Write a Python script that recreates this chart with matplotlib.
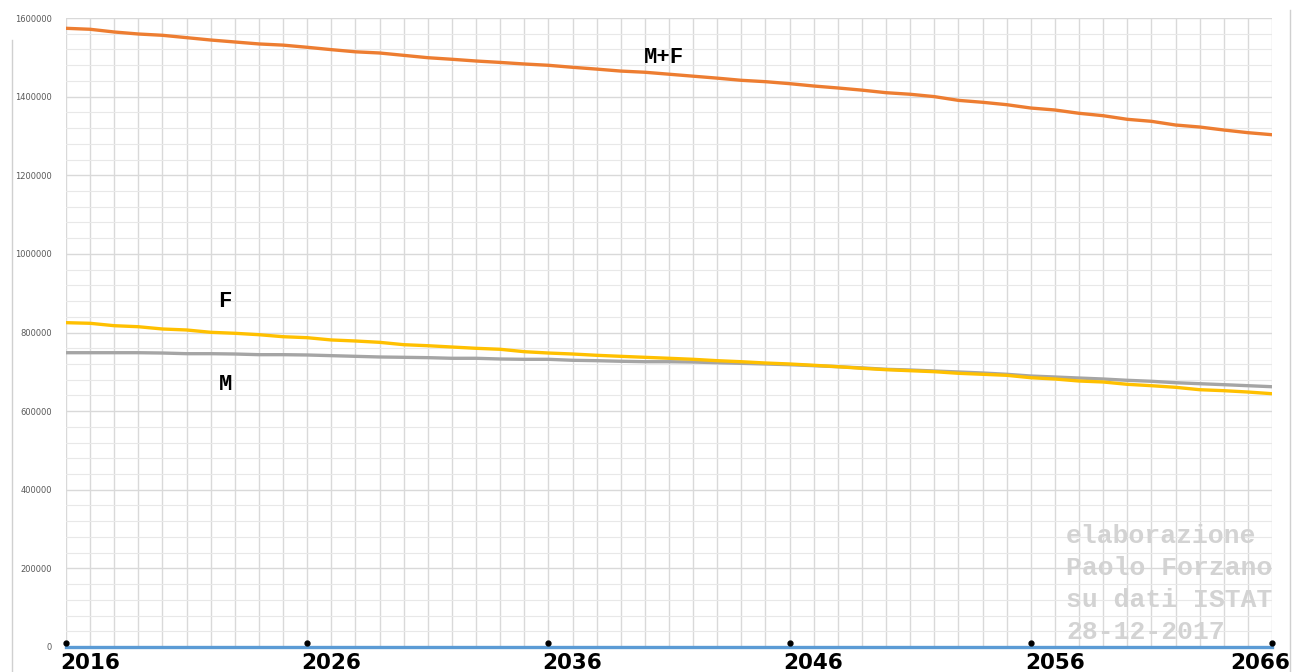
import numpy as np
import matplotlib.pyplot as plt
from matplotlib.lines import Line2D
import matplotlib.transforms as mtransforms

# Popolazione residente prevista (ISTAT)
anni = list(range(2016, 2067))

totale = [1573800, 1571300, 1564400, 1559300, 1556000, 1550000, 1544000, 1539000,
          1534000, 1531000, 1525500, 1519500, 1514000, 1511000, 1505000, 1499000,
          1495000, 1490600, 1487000, 1483000, 1479700, 1474600, 1470000, 1465000,
          1462000, 1457000, 1452000, 1447000, 1441500, 1438000, 1433000, 1427000,
          1422000, 1416500, 1410000, 1406000, 1400000, 1390500, 1385600, 1379500,
          1371000, 1366000, 1357600, 1351500, 1342300, 1337200, 1327800, 1322700,
          1315100, 1308300, 1303100]

femmine = [825000, 823400, 817300, 814700, 808900, 806400, 800500, 798000,
           794400, 789300, 786800, 781000, 778400, 775000, 769000, 766400,
           763100, 759800, 757300, 751200, 747800, 745300, 742000, 739400,
           736900, 734400, 731800, 728300, 725700, 722400, 719900, 716600,
           713000, 708900, 705400, 702800, 700300, 696200, 693700, 691100,
           685000, 681700, 676600, 674100, 668200, 664700, 660600, 654500,
           652000, 648600, 644300]

maschi = [748600, 748600, 748600, 748600, 747800, 746100, 746100, 745300,
          743600, 743600, 742800, 741100, 739400, 737700, 736900, 736000,
          734400, 734400, 732600, 731800, 731800, 729300, 728300, 726800,
          725700, 725700, 724900, 723200, 721600, 719900, 718100, 715600,
          713000, 710000, 706400, 704600, 702100, 699600, 697000, 693700,
          689300, 686800, 684200, 681700, 678400, 675900, 672300, 669800,
          667300, 664700, 662100]

anni_etichetta = [2016, 2026, 2036, 2046, 2056, 2066]
zero = [0] * len(anni)

fig = plt.figure(figsize=(12.98, 6.72), dpi=100)
ax = fig.add_axes([66 / 1298, 25 / 672, 1206 / 1298, 629 / 672])

ax.plot(anni, zero, color='#5b9bd5', lw=2.4, zorder=3, clip_on=False)
ax.plot(anni, totale, color='#ed7d31', lw=2.4, zorder=4)
ax.plot(anni, maschi, color='#a5a5a5', lw=2.4, zorder=4)
ax.plot(anni, femmine, color='#ffc000', lw=2.4, zorder=5)

# punti neri sopra l'asse agli anni di riferimento
off = mtransforms.offset_copy(ax.transData, fig=fig, x=0, y=4, units='dots')
ax.plot(anni_etichetta, [0] * len(anni_etichetta), 'o', color='black',
        ms=3.5, transform=off, zorder=6, clip_on=False)

ax.set_xlim(2016, 2066)
ax.set_ylim(0, 1600000)
ax.set_xticks(anni)
ax.set_xticklabels([])
ax.set_yticks(np.arange(0, 1600001, 40000), minor=True)
ax.set_yticks(np.arange(0, 1600001, 200000))
ax.set_yticklabels([str(v) for v in range(0, 1600001, 200000)],
                   fontsize=6, color='#595959')
ax.tick_params(axis='both', which='both', length=0, pad=10)
ax.grid(True, which='major', color='#d9d9d9', lw=1)
ax.grid(True, which='minor', axis='y', color='#e8e8e8', lw=0.8)
ax.set_axisbelow(True)
for s in ax.spines.values():
    s.set_visible(False)

# etichette degli anni
for a in anni_etichetta:
    if a == 2066:
        x, ha = a + 0.75, 'right'
    else:
        x, ha = a - 0.25, 'left'
    ax.text(x, -0.009, str(a), transform=ax.get_xaxis_transform(),
            ha=ha, va='top', fontsize=15.5, fontweight='bold')

# nomi delle serie
mono = 'Liberation Mono'
ax.text(2040.8, 1500000, 'M+F', family=mono, fontweight='bold', fontsize=16,
        ha='center', va='center')
ax.text(2022.6, 880000, 'F', family=mono, fontweight='bold', fontsize=16,
        ha='center', va='center')
ax.text(2022.6, 668000, 'M', family=mono, fontweight='bold', fontsize=16,
        ha='center', va='center')

# firma
righe = ['elaborazione', 'Paolo Forzano', 'su dati ISTAT', '28-12-2017']
for i, r in enumerate(righe):
    fig.text(1066 / 1298, 1 - (536 + 32 * i) / 672, r, family=mono,
             fontweight='bold', fontsize=19, color='#d3d3d3', ha='left',
             va='center', zorder=2)

# bordi della schermata
fig.add_artist(Line2D([12 / 1298, 12 / 1298], [0, 1 - 40 / 672],
                      color='#d0d0d0', lw=1))
fig.add_artist(Line2D([1290 / 1298, 1290 / 1298], [0, 1 - 10 / 672],
                      color='#d0d0d0', lw=1))

fig.savefig('out.png', dpi=100, facecolor='white')
